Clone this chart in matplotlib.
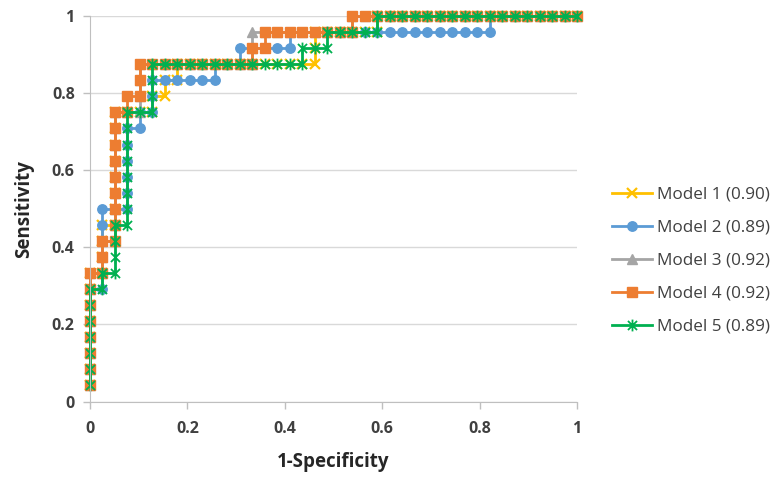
import matplotlib.pyplot as plt
from matplotlib.path import Path

# ROC data: counts of false / true positives at each threshold
# (39 negatives, 24 positives)
n_neg = 39
n_pos = 24

model_names = ['Model 1 (0.90)', 'Model 2 (0.89)', 'Model 3 (0.92)', 'Model 4 (0.92)', 'Model 5 (0.89)']

m1_fp = [0, 0, 0, 0, 0, 0, 0, 0, 1, 1, 1, 1, 2, 2, 2, 2, 2, 2, 2, 2,
         3, 4, 5, 5, 6, 6, 7, 7, 8, 9, 10, 11, 12, 13, 14, 15, 16, 17, 18,
         18, 18, 19, 20, 21, 22, 23, 23,
         24, 25, 26, 27, 28, 29, 30, 31, 32, 33, 34, 35, 36, 37, 38, 39]
m1_tp = [1, 2, 3, 4, 5, 6, 7, 8, 8, 9, 10, 11, 11, 12, 13, 14, 15, 16, 17, 18,
         18, 18, 18, 19, 19, 20, 20, 21, 21, 21, 21, 21, 21, 21, 21, 21, 21, 21, 21,
         22, 23, 23, 23, 23, 23, 23, 24,
         24, 24, 24, 24, 24, 24, 24, 24, 24, 24, 24, 24, 24, 24, 24, 24]

m2_fp = [0, 0, 0, 0, 0, 0, 0, 1, 1, 1, 1, 1, 1, 2, 3, 3, 3, 3, 3, 3,
         4, 4, 5, 5, 5, 6, 7, 8, 9, 10, 10, 11, 12, 12, 13, 14, 15, 16, 16,
         17, 18, 19, 20, 21, 22, 23, 24, 25, 26, 27, 28, 29, 30, 31, 32,
         32, 33, 34, 35, 36, 37, 38, 39]
m2_tp = [1, 2, 3, 4, 5, 6, 7, 7, 8, 9, 10, 11, 12, 12, 12, 13, 14, 15, 16, 17,
         17, 18, 18, 19, 20, 20, 20, 20, 20, 20, 21, 21, 21, 22, 22, 22, 22, 22, 23,
         23, 23, 23, 23, 23, 23, 23, 23, 23, 23, 23, 23, 23, 23, 23, 23,
         24, 24, 24, 24, 24, 24, 24, 24]

m3_fp = [0, 0, 0, 0, 0, 0, 0, 0, 1, 1, 1, 2, 2, 2, 2, 2, 2, 2, 2, 2,
         3, 4, 4, 4, 4, 5, 6, 7, 8, 9, 10, 11, 12, 13, 13, 13,
         14, 15, 16, 17, 18, 19, 20, 21, 21,
         22, 23, 24, 25, 26, 27, 28, 29, 30, 31, 32, 33, 34, 35, 36, 37, 38, 39]
m3_tp = [1, 2, 3, 4, 5, 6, 7, 8, 8, 9, 10, 10, 11, 12, 13, 14, 15, 16, 17, 18,
         18, 18, 19, 20, 21, 21, 21, 21, 21, 21, 21, 21, 21, 21, 22, 23,
         23, 23, 23, 23, 23, 23, 23, 23, 24,
         24, 24, 24, 24, 24, 24, 24, 24, 24, 24, 24, 24, 24, 24, 24, 24, 24, 24]

m4_fp = [0, 0, 0, 0, 0, 0, 0, 0, 1, 1, 1, 2, 2, 2, 2, 2, 2, 2, 2, 2,
         3, 3, 4, 4, 4, 5, 6, 7, 8, 9, 10, 11, 12, 13, 13, 14, 14,
         15, 16, 17, 18, 19, 20, 21, 21,
         22, 23, 24, 25, 26, 27, 28, 29, 30, 31, 32, 33, 34, 35, 36, 37, 38, 39]
m4_tp = [1, 2, 3, 4, 5, 6, 7, 8, 8, 9, 10, 10, 11, 12, 13, 14, 15, 16, 17, 18,
         18, 19, 19, 20, 21, 21, 21, 21, 21, 21, 21, 21, 21, 21, 22, 22, 23,
         23, 23, 23, 23, 23, 23, 23, 24,
         24, 24, 24, 24, 24, 24, 24, 24, 24, 24, 24, 24, 24, 24, 24, 24, 24, 24]

m5_fp = [0, 0, 0, 0, 0, 0, 0, 1, 1, 2, 2, 2, 2, 3, 3, 3, 3, 3, 3, 3, 3,
         4, 5, 5, 5, 5, 6, 7, 8, 9, 10, 11, 12, 13, 14, 15, 16, 17,
         17, 18, 19, 19, 20, 21, 22, 23, 23,
         24, 25, 26, 27, 28, 29, 30, 31, 32, 33, 34, 35, 36, 37, 38, 39]
m5_tp = [1, 2, 3, 4, 5, 6, 7, 7, 8, 8, 9, 10, 11, 11, 12, 13, 14, 15, 16, 17, 18,
         18, 18, 19, 20, 21, 21, 21, 21, 21, 21, 21, 21, 21, 21, 21, 21, 21,
         22, 22, 22, 23, 23, 23, 23, 23, 24,
         24, 24, 24, 24, 24, 24, 24, 24, 24, 24, 24, 24, 24, 24, 24, 24]

fp_counts = [m1_fp, m2_fp, m3_fp, m4_fp, m5_fp]
tp_counts = [m1_tp, m2_tp, m3_tp, m4_tp, m5_tp]

colors = ['#FFC000', '#5B9BD5', '#A5A5A5', '#ED7D31', '#00B050']

# Excel style "star" marker: an X with a vertical bar through it
star = Path([(-1, -1), (1, 1), (-1, 1), (1, -1), (0, -1.3), (0, 1.3)],
            [Path.MOVETO, Path.LINETO, Path.MOVETO, Path.LINETO, Path.MOVETO, Path.LINETO])

marker_styles = [
    dict(marker='x', markersize=7, markeredgewidth=1.6),
    dict(marker='o', markersize=6.8),
    dict(marker='^', markersize=6.8),
    dict(marker='s', markersize=6.8),
    dict(marker=star, markersize=8.5, markeredgewidth=1.3),
]

plt.rcParams['font.family'] = ['Open Sans', 'DejaVu Sans']

fig = plt.figure(figsize=(7.79, 4.79), dpi=100)
ax = fig.add_axes([90 / 779, (479 - 401.5) / 479, 487 / 779, 385.5 / 479])

for name, fp, tp, color, ms in zip(model_names, fp_counts, tp_counts, colors, marker_styles):
    x = [v / n_neg for v in fp]
    y = [v / n_pos for v in tp]
    ax.plot(x, y, color=color, linewidth=2.0, label=name, clip_on=False,
            markerfacecolor=color, markeredgecolor=color, **ms)

ax.set_xlim(0, 1)
ax.set_ylim(0, 1)
ticks = [0, 0.2, 0.4, 0.6, 0.8, 1]
tick_labels = ['0', '0.2', '0.4', '0.6', '0.8', '1']
ax.set_xticks(ticks)
ax.set_xticklabels(tick_labels)
ax.set_yticks(ticks)
ax.set_yticklabels(tick_labels)

for lab in ax.get_xticklabels() + ax.get_yticklabels():
    lab.set_fontweight('bold')
    lab.set_fontsize(11.5)

ax.grid(axis='y', color='#D9D9D9', linewidth=1.0)
ax.set_axisbelow(True)
ax.spines['top'].set_visible(False)
ax.spines['right'].set_visible(False)
ax.spines['left'].set_color('#BFBFBF')
ax.spines['bottom'].set_color('#BFBFBF')
ax.tick_params(axis='both', colors='#BFBFBF', length=5, width=1)
ax.tick_params(axis='x', pad=9)
ax.tick_params(axis='y', pad=6)
ax.tick_params(axis='both', labelcolor='#404040')

ax.set_xlabel('1-Specificity', fontsize=13.5, fontweight='bold', color='#262626', labelpad=11)
ax.set_ylabel('Sensitivity', fontsize=13.5, fontweight='bold', color='#262626', labelpad=13)

leg = ax.legend(loc='center left', bbox_to_anchor=(612 / 779, 218.2 / 479),
                bbox_transform=fig.transFigure, frameon=False, fontsize=12.3,
                handlelength=2.35, handletextpad=0.3, labelspacing=1.0,
                borderpad=0, borderaxespad=0)
for t in leg.get_texts():
    t.set_color('#404040')

fig.savefig('out.png', dpi=100)
